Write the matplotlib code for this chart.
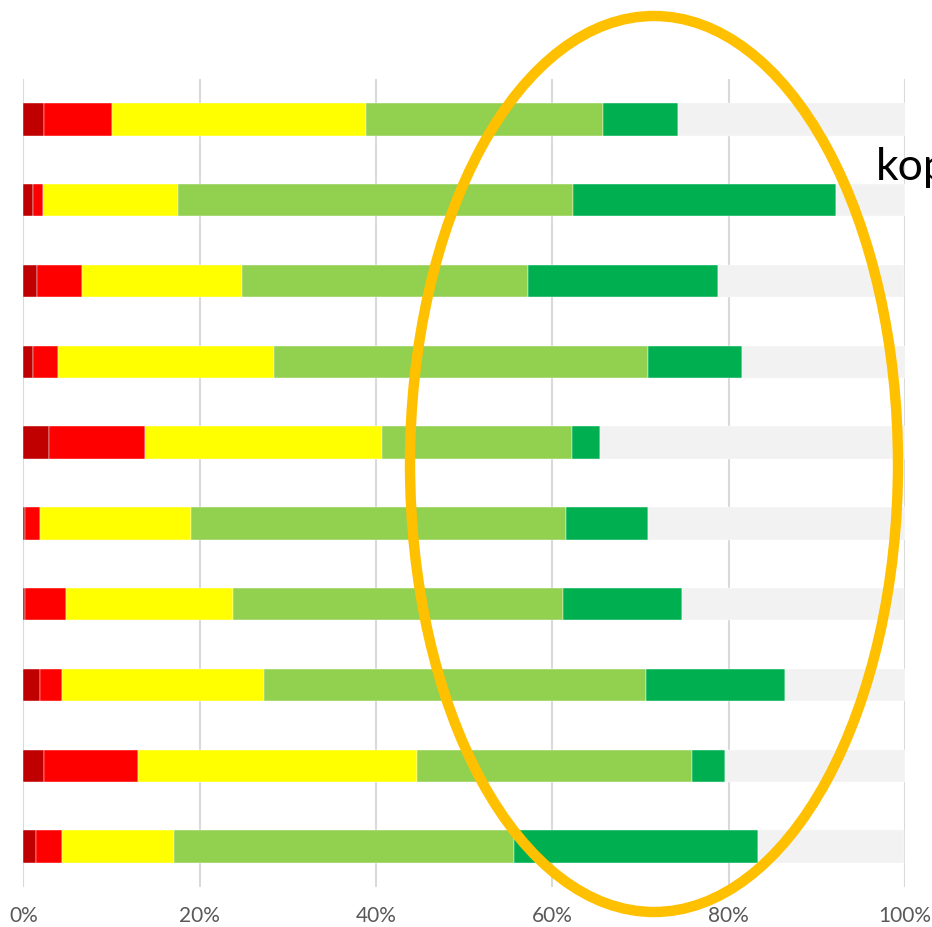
import numpy as np
import matplotlib.pyplot as plt
from matplotlib.patches import Ellipse

# share of each rating per row (percent), rows top to bottom
dark_red = [2.4, 1.1, 1.6, 1.1, 2.9, 0.2, 0.2, 1.9, 2.4, 1.4]
red = [7.7, 1.1, 5.1, 2.8, 10.9, 1.7, 4.6, 2.5, 10.6, 3.0]
yellow = [28.8, 15.4, 18.1, 24.5, 26.9, 17.1, 19.0, 22.9, 31.6, 12.7]
light_green = [26.9, 44.7, 32.4, 42.5, 21.5, 42.6, 37.4, 43.3, 31.3, 38.6]
green = [8.4, 29.9, 21.6, 10.6, 3.2, 9.2, 13.5, 15.8, 3.7, 27.6]
grey = [25.9, 7.8, 21.1, 18.6, 34.6, 29.3, 25.2, 13.6, 20.4, 16.6]

series = [dark_red, red, yellow, light_green, green, grey]
colors = ['#C00000', '#FF0000', '#FFFF00', '#92D050', '#00B050', '#F2F2F2']
xticks = [0, 20, 40, 60, 80, 100]
xlabels = ['0%', '20%', '40%', '60%', '80%', '100%']

fig = plt.figure(figsize=(9.32, 9.28), dpi=100)
ax = fig.add_axes([0.025, 0.0431, 0.946, 0.8707])

rows = np.arange(len(dark_red))
left = np.zeros(len(rows))
for vals, c in zip(series, colors):
    vals = np.array(vals)
    ax.barh(rows, vals, left=left, height=0.4, color=c, zorder=2,
            edgecolor='white', linewidth=0.3)
    left = left + vals

ax.set_xlim(0, 100)
ax.set_ylim(9.5, -0.5)
ax.set_xticks(xticks)
ax.set_xticklabels(xlabels, fontsize=15, color='#595959', family='Lato')
ax.set_yticks([])
ax.tick_params(axis='x', length=0, pad=13)
ax.grid(axis='x', color='#D9D9D9', linewidth=1.5, zorder=0)
for s in ax.spines.values():
    s.set_visible(False)

# orange highlight ring and cut-off label
ring = Ellipse((654 / 932, 1 - 465 / 928), 488 / 932, 896 / 928,
               transform=fig.transFigure, fill=False,
               edgecolor='#FFC000', linewidth=7.5, zorder=5)
fig.patches.append(ring)
fig.text(876 / 932, 1 - 167 / 928, 'kopf', fontsize=32, family='Lato',
         va='center', ha='left', color='black')

fig.savefig('out.png', dpi=100)
